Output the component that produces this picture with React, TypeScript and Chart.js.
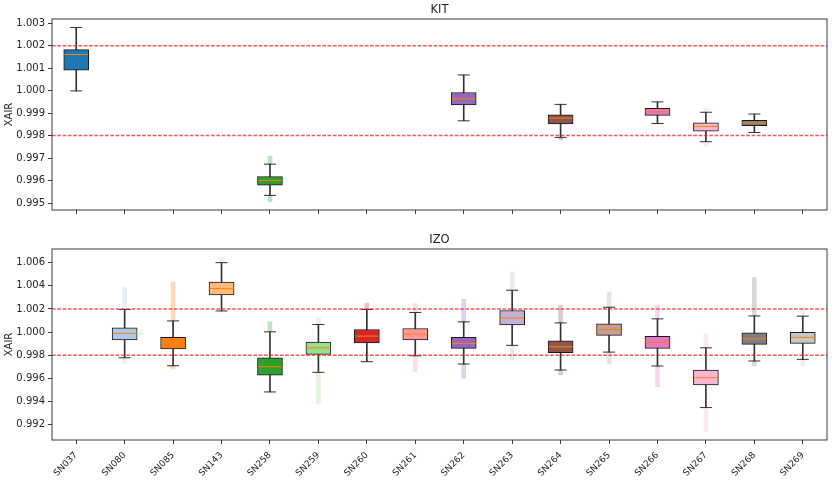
import React, { useEffect, useRef } from 'react';
import { Chart, registerables } from 'chart.js';

Chart.register(...registerables);

const categories = ['SN037', 'SN080', 'SN085', 'SN143', 'SN258', 'SN259', 'SN260', 'SN261', 'SN262', 'SN263', 'SN264', 'SN265', 'SN266', 'SN267', 'SN268', 'SN269'];
const boxColors = ['#1f77b4', '#aec7e8', '#ff7f0e', '#ffbb78', '#2ca02c', '#98df8a', '#d62728', '#ff9896', '#9467bd', '#c5b0d5', '#8c564b', '#c49c94', '#e377c2', '#f7b6d2', '#7f7f7f', '#c7c7c7'];
const refLines = [0.998, 1.002];

// KIT panel
const kitWhiskerHigh = [1.00281, null, null, null, 0.99673, null, null, null, 1.0007, null, 0.99939, null, 0.9995, 0.99904, 0.99896, null];
const kitQ3 = [1.00183, null, null, null, 0.99618, null, null, null, 0.99992, null, 0.99892, null, 0.99922, 0.99857, 0.99868, null];
const kitMedian = [1.00161, null, null, null, 0.99601, null, null, null, 0.99964, null, 0.99878, null, 0.99906, 0.99841, 0.99857, null];
const kitQ1 = [1.00091, null, null, null, 0.99579, null, null, null, 0.99937, null, 0.99852, null, 0.9989, 0.9982, 0.99844, null];
const kitWhiskerLow = [0.99999, null, null, null, 0.99534, null, null, null, 0.99866, null, 0.99792, null, 0.99854, 0.99773, 0.99814, null];
const kitFlierHigh = [null, null, null, null, 0.99709, null, null, null, null, null, null, null, null, 0.99922, null, null];
const kitFlierLow = [null, null, null, null, 0.99506, null, null, null, null, null, 0.9978, null, null, 0.9975, null, null];
const kitTicks = [0.995, 0.996, 0.997, 0.998, 0.999, 1.0, 1.001, 1.002, 1.003];
const kitMin = 0.99469;
const kitMax = 1.00319;

// IZO panel
const izoWhiskerHigh = [null, 1.00196, 1.00097, 1.006, 1.00003, 1.00066, 1.00196, 1.0017, 1.00089, 1.00362, 1.0008, 1.00215, 1.00115, 0.99865, 1.0014, 1.00138];
const izoQ3 = [null, 1.00037, 0.99955, 1.00433, 0.99779, 0.99914, 1.00023, 1.00032, 0.99955, 1.00187, 0.99925, 1.00072, 0.99963, 0.99673, 0.99994, 0.99998];
const izoMedian = [null, 0.99989, 0.99903, 1.00376, 0.99702, 0.99865, 0.99966, 0.99983, 0.99903, 1.00123, 0.99874, 1.00023, 0.99912, 0.99607, 0.99943, 0.99955];
const izoQ1 = [null, 0.99934, 0.99856, 1.00321, 0.99628, 0.99808, 0.99908, 0.99934, 0.9986, 1.00063, 0.99822, 0.99972, 0.9986, 0.99544, 0.99894, 0.99903];
const izoWhiskerLow = [null, 0.99779, 0.9971, 1.00183, 0.99484, 0.99653, 0.99745, 0.99796, 0.99725, 0.99886, 0.99673, 0.99828, 0.99708, 0.99349, 0.99751, 0.99765];
const izoFlierHigh = [null, 1.00385, 1.00433, 1.00648, 1.00089, 1.00127, 1.00252, 1.00247, 1.00284, 1.00519, 1.00233, 1.00347, 1.00233, 0.99989, 1.00471, 1.00213];
const izoFlierLow = [null, 0.99731, 0.99682, null, null, 0.99387, null, 0.99659, 0.99602, 0.99759, 0.99631, 0.99725, 0.99529, 0.99142, 0.99708, 0.99708];
const izoTicks = [0.992, 0.994, 0.996, 0.998, 1.0, 1.002, 1.004, 1.006];
const izoMin = 0.99069;
const izoMax = 1.00718;

type Num = number | null;

const FONT = '"DejaVu Sans", sans-serif';
const TEXT = '#262626';
const FRAME = '#3a3a3a';

function rgba(hex: string, a: number) {
  const n = parseInt(hex.slice(1), 16);
  return `rgba(${(n >> 16) & 255},${(n >> 8) & 255},${n & 255},${a})`;
}

function makeDatasets(wl: Num[], q1: Num[], med: Num[], q3: Num[], wh: Num[], fl: Num[], fh: Num[]) {
  const faint = boxColors.map((c) => rgba(c, 0.3));
  return [
    {
      type: 'bar',
      data: categories.map((_, i) => (fh[i] != null && wh[i] != null ? [wh[i], fh[i]] : null)),
      backgroundColor: faint,
      barThickness: 4,
      grouped: false,
      order: 7,
    },
    {
      type: 'bar',
      data: categories.map((_, i) => (fl[i] != null && wl[i] != null ? [fl[i], wl[i]] : null)),
      backgroundColor: faint,
      barThickness: 4,
      grouped: false,
      order: 6,
    },
    {
      type: 'bar',
      data: categories.map((_, i) => (wl[i] != null && wh[i] != null ? [wl[i], wh[i]] : null)),
      backgroundColor: '#333333',
      barThickness: 1,
      grouped: false,
      order: 5,
    },
    {
      type: 'bar',
      data: categories.map((_, i) => (q1[i] != null && q3[i] != null ? [q1[i], q3[i]] : null)),
      backgroundColor: boxColors,
      borderColor: '#1a1a1a',
      borderWidth: 1,
      borderSkipped: false,
      barThickness: 25,
      grouped: false,
      order: 4,
    },
    {
      type: 'line',
      data: wl,
      showLine: false,
      pointStyle: 'line',
      pointRadius: 6,
      pointBorderColor: '#333333',
      pointBorderWidth: 1,
      order: 3,
    },
    {
      type: 'line',
      data: wh,
      showLine: false,
      pointStyle: 'line',
      pointRadius: 6,
      pointBorderColor: '#333333',
      pointBorderWidth: 1,
      order: 2,
    },
    {
      type: 'line',
      data: med,
      showLine: false,
      pointStyle: 'line',
      pointRadius: 12,
      pointBorderColor: '#ff7f0e',
      pointBorderWidth: 1,
      order: 1,
    },
  ];
}

function overlayPlugin(title: string) {
  return {
    id: 'overlay',
    afterDatasetsDraw(chart: any) {
      const { ctx, chartArea: a, scales } = chart;
      const y = scales.y;
      ctx.save();
      ctx.beginPath();
      ctx.rect(a.left, a.top, a.right - a.left, a.bottom - a.top);
      ctx.clip();
      ctx.strokeStyle = 'rgba(255,30,30,0.75)';
      ctx.lineWidth = 1.5;
      ctx.setLineDash([3.7, 1.6]);
      for (const v of refLines) {
        const py = y.getPixelForValue(v);
        ctx.beginPath();
        ctx.moveTo(a.left, py);
        ctx.lineTo(a.right, py);
        ctx.stroke();
      }
      ctx.restore();

      ctx.save();
      ctx.strokeStyle = FRAME;
      ctx.lineWidth = 1;
      ctx.strokeRect(a.left, a.top, a.right - a.left, a.bottom - a.top);
      ctx.fillStyle = TEXT;
      ctx.font = `11.5px ${FONT}`;
      ctx.textAlign = 'center';
      ctx.textBaseline = 'alphabetic';
      ctx.fillText(title, (a.left + a.right) / 2, 13);
      ctx.font = `10px ${FONT}`;
      ctx.translate(12, (a.top + a.bottom) / 2);
      ctx.rotate(-Math.PI / 2);
      ctx.fillText('XAIR', 0, 0);
      ctx.restore();
    },
  };
}

function makeConfig(
  title: string,
  showLabels: boolean,
  xHeight: number,
  ticks: number[],
  min: number,
  max: number,
  ds: any[]
): any {
  return {
    type: 'bar',
    data: { labels: categories, datasets: ds },
    plugins: [overlayPlugin(title)],
    options: {
      animation: false,
      responsive: false,
      events: [],
      layout: { padding: { top: 19, right: 8, left: 0, bottom: 0 } },
      plugins: { legend: { display: false }, tooltip: { enabled: false }, title: { display: false } },
      scales: {
        x: {
          type: 'category',
          offset: true,
          grid: { display: true, offset: false, drawOnChartArea: false, drawTicks: true, tickLength: 4, color: FRAME },
          border: { display: false },
          ticks: {
            display: showLabels,
            autoSkip: false,
            minRotation: 45,
            maxRotation: 45,
            padding: 6,
            color: TEXT,
            font: { family: FONT, size: 9 },
          },
          afterFit: (s: any) => {
            s.height = xHeight;
          },
        },
        y: {
          type: 'linear',
          min,
          max,
          grid: { display: true, drawOnChartArea: false, drawTicks: true, tickLength: 4, color: FRAME },
          border: { display: false },
          afterBuildTicks: (s: any) => {
            s.ticks = ticks.map((v) => ({ value: v }));
          },
          ticks: {
            padding: 3,
            color: TEXT,
            font: { family: FONT, size: 10 },
            callback: (v: any) => Number(v).toFixed(3),
          },
          afterFit: (s: any) => {
            s.width = 52;
          },
        },
      },
    },
  };
}

export default function App() {
  const topRef = useRef<HTMLCanvasElement | null>(null);
  const botRef = useRef<HTMLCanvasElement | null>(null);

  useEffect(() => {
    document.body.style.margin = '0';
    const top = new Chart(
      topRef.current as HTMLCanvasElement,
      makeConfig('KIT', false, 20, kitTicks, kitMin, kitMax,
        makeDatasets(kitWhiskerLow, kitQ1, kitMedian, kitQ3, kitWhiskerHigh, kitFlierLow, kitFlierHigh))
    );
    const bot = new Chart(
      botRef.current as HTMLCanvasElement,
      makeConfig('IZO', true, 42, izoTicks, izoMin, izoMax,
        makeDatasets(izoWhiskerLow, izoQ1, izoMedian, izoQ3, izoWhiskerHigh, izoFlierLow, izoFlierHigh))
    );
    return () => {
      top.destroy();
      bot.destroy();
    };
  }, []);

  return (
    <div style={{ position: 'absolute', left: 0, top: 0, width: 840, height: 482, background: '#fff' }}>
      <canvas ref={topRef} width={840} height={230} style={{ display: 'block', width: 840, height: 230 }} />
      <canvas ref={botRef} width={840} height={252} style={{ display: 'block', width: 840, height: 252 }} />
    </div>
  );
}
